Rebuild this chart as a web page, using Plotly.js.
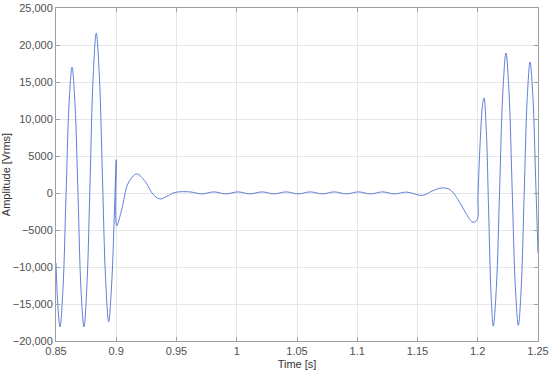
<!DOCTYPE html>
<html>
<head>
<meta charset="utf-8">
<script src="https://cdn.plot.ly/plotly-3.0.1.min.js"></script>
<style>
    html, body { margin: 0; padding: 0; background: #ffffff; }
    #chart { width: 550px; height: 376px; }
</style>
</head>
<body>
<div id="chart"></div>
<script>
// Voltage trace, values
const timeS = [
    0.8500, 0.8517, 0.8533, 0.8558, 0.8583, 0.8608, 0.8633, 0.8658, 0.8683, 0.8707,
    0.8732, 0.8758, 0.8783, 0.8808, 0.8834, 0.8860, 0.8885, 0.8911, 0.8937, 0.8962,
    0.8987, 0.9000, 0.9004, 0.9045, 0.9100, 0.9170, 0.9239, 0.9308, 0.9364, 0.9419,
    0.9488, 0.9610, 0.9710, 0.9810, 0.9910, 1.0010, 1.0110, 1.0210, 1.0310, 1.0410,
    1.0510, 1.0610, 1.0710, 1.0810, 1.0910, 1.1010, 1.1110, 1.1210, 1.1310, 1.1410,
    1.1540, 1.1620, 1.1700, 1.1770, 1.1853, 1.1909, 1.1960, 1.1995, 1.2002, 1.2010,
    1.2020, 1.2030, 1.2040, 1.2052, 1.2071, 1.2090, 1.2110, 1.2129, 1.2155, 1.2181,
    1.2207, 1.2234, 1.2260, 1.2286, 1.2312, 1.2337, 1.2361, 1.2385, 1.2410, 1.2434,
    1.2458, 1.2480, 1.2500
];
const amplitudeV = [
    -9460, -15700, -18100, -12900, -450, 11890, 17000, 11890, -450, -12900,
    -18100, -11940, 1850, 15600, 21600, 15770, 2440, -11450, -17400, -12300,
    -1500, 4500, -4420, -2260, 1350, 2570, 1570, -230, -810, -460,
    80, 150, -120, 150, -120, 150, -120, 150, -120, 150,
    -120, 150, -120, 150, -120, 150, -120, 150, -120, 120,
    -330, 250, 680, 450, -1350, -2930, -3950, -3600, -500, 3190,
    6880, 9890, 11940, 12840, 8440, -2240, -13560, -18000, -12630, 220,
    13210, 18920, 13450, 290, -12710, -17900, -12700, -350, 12630, 17700,
    12900, 2200, -8100
];

const xTickVals = [0.85, 0.9, 0.95, 1, 1.05, 1.1, 1.15, 1.2, 1.25];
const xTickText = ['0.85', '0.9', '0.95', '1', '1.05', '1.1', '1.15', '1.2', '1.25'];
const yTickVals = [-20000, -15000, -10000, -5000, 0, 5000, 10000, 15000, 20000, 25000];
const yTickText = ['\u221220,000', '\u221215,000', '\u221210,000', '\u22125000', '0',
                   '5000', '10,000', '15,000', '20,000', '25,000'];

const fontFamily = 'Liberation Sans, Arial, sans-serif';

const axisCommon = {
    showline: true,
    linecolor: '#9f9f9f',
    linewidth: 1,
    mirror: 'ticks',
    ticks: 'inside',
    ticklen: 4,
    tickcolor: '#9f9f9f',
    showgrid: true,
    gridcolor: '#e6e6e6',
    gridwidth: 1,
    zeroline: false,
    tickmode: 'array',
    tickfont: { family: fontFamily, size: 11, color: '#505050' }
};

const trace = {
    x: timeS,
    y: amplitudeV,
    type: 'scatter',
    mode: 'lines',
    line: { color: '#4d72d4', width: 0.9, shape: 'spline', smoothing: 1 },
    hoverinfo: 'x+y'
};

const layout = {
    width: 550,
    height: 376,
    margin: { l: 56, r: 12, t: 8, b: 35 },
    paper_bgcolor: '#ffffff',
    plot_bgcolor: '#ffffff',
    showlegend: false,
    font: { family: fontFamily, size: 11, color: '#505050' },
    xaxis: Object.assign({}, axisCommon, {
        range: [0.85, 1.25],
        tickvals: xTickVals,
        ticktext: xTickText,
        title: { text: 'Time [s]', standoff: 4,
                 font: { family: fontFamily, size: 11, color: '#333333' } }
    }),
    yaxis: Object.assign({}, axisCommon, {
        range: [-20000, 25000],
        tickvals: yTickVals,
        ticktext: yTickText,
        title: { text: 'Amplitude [Vrms]', standoff: 5,
                 font: { family: fontFamily, size: 11, color: '#333333' } }
    })
};

Plotly.newPlot('chart', [trace], layout, { displayModeBar: false, staticPlot: true });
</script>
</body>
</html>
